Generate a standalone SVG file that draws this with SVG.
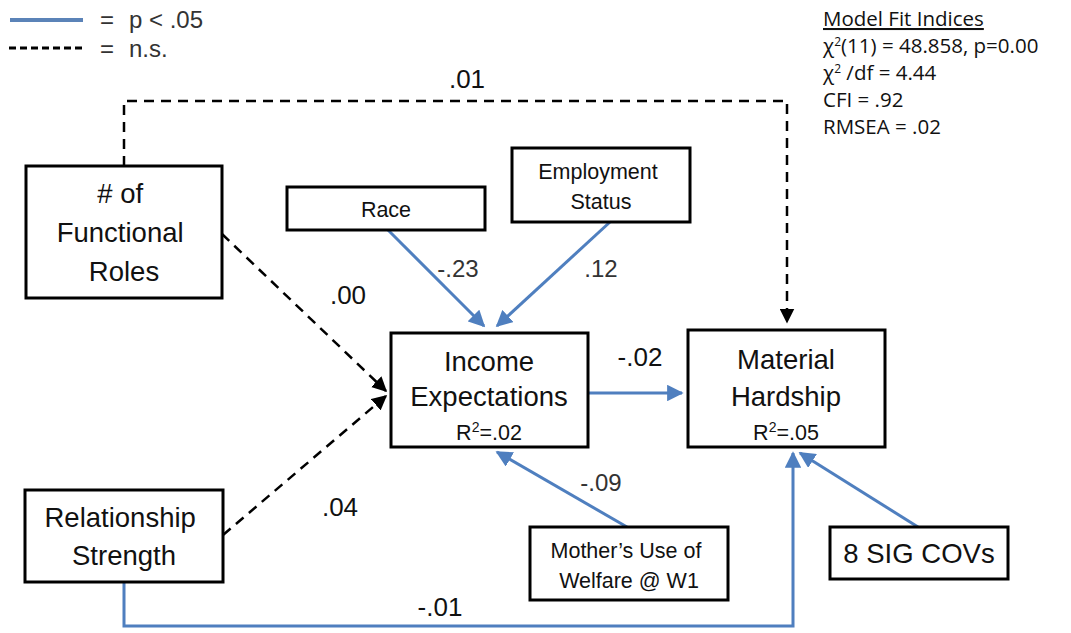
<svg xmlns="http://www.w3.org/2000/svg" width="1071" height="633" viewBox="0 0 1071 633">
  <style>
    .box { fill: #fff; stroke: #000; stroke-width: 3; }
    .t { font-family: "Liberation Sans", Arial, sans-serif; fill: #111; text-anchor: middle; }
    .big { font-size: 27.5px; }
    .mid { font-size: 21.5px; }
    .lbl { font-family: "Liberation Sans", Arial, sans-serif; fill: #111; font-size: 26px; text-anchor: middle; }
    .lbls { font-family: "Liberation Sans", Arial, sans-serif; fill: #333; font-size: 24px; text-anchor: middle; }
    .sig { fill: none; stroke: #4f7fbf; stroke-width: 3; }
    .ns { fill: none; stroke: #000; stroke-width: 2.5; stroke-dasharray: 10 7; }
    .fit { font-family: "Open Sans", "Liberation Sans", sans-serif; font-size: 20.5px; fill: #111; }
    .sup { font-size: 12px; }
    .leg { font-family: "Liberation Sans", Arial, sans-serif; font-size: 24px; fill: #333; }
  </style>
  <defs>
    <marker id="arrBlue" viewBox="0 0 10 10" refX="9" refY="5" markerWidth="5.5" markerHeight="5.5" orient="auto" markerUnits="strokeWidth">
      <path d="M0,0 L10,5 L0,10 z" fill="#4f7fbf"/>
    </marker>
    <marker id="arrBlack" viewBox="0 0 10 10" refX="9" refY="5" markerWidth="6" markerHeight="6" orient="auto" markerUnits="strokeWidth">
      <path d="M0,0 L10,5 L0,10 z" fill="#000"/>
    </marker>
  </defs>

  <rect width="1071" height="633" fill="#fff"/>

  <!-- legend -->
  <g id="legend">
    <line x1="10" y1="20" x2="83" y2="20" stroke="#5b83b8" stroke-width="4"/>
    <text class="leg" x="100" y="28">=<tspan x="129">p &lt; .05</tspan></text>
    <line x1="9" y1="48" x2="83" y2="48" stroke="#000" stroke-width="3" stroke-dasharray="7 4"/>
    <text class="leg" x="100" y="57">=<tspan x="129">n.s.</tspan></text>
  </g>

  <!-- fit statistics -->
  <g id="fit">
    <text class="fit" x="823" y="26" text-decoration="underline">Model Fit Indices</text>
    <text class="fit" x="823" y="53">χ<tspan class="sup" dy="-7">2</tspan><tspan dy="7">(11) = 48.858, p=0.00</tspan></text>
    <text class="fit" x="823" y="80">χ<tspan class="sup" dy="-7">2</tspan><tspan dy="7"> /df = 4.44</tspan></text>
    <text class="fit" x="823" y="107">CFI = .92</text>
    <text class="fit" x="823" y="134">RMSEA = .02</text>
  </g>

  <!-- connectors -->
  <g id="connectors">
    <polyline class="ns" points="124,166 124,101 787,101 787,322" marker-end="url(#arrBlack)"/>
    <line class="ns" x1="222" y1="234" x2="386" y2="391" marker-end="url(#arrBlack)"/>
    <line class="ns" x1="223" y1="535" x2="386" y2="396" marker-end="url(#arrBlack)"/>
    <line class="sig" x1="388" y1="230" x2="484" y2="326" marker-end="url(#arrBlue)"/>
    <line class="sig" x1="610" y1="222" x2="497" y2="326" marker-end="url(#arrBlue)"/>
    <line class="sig" x1="588" y1="393" x2="682" y2="393" marker-end="url(#arrBlue)"/>
    <line class="sig" x1="627" y1="527" x2="497" y2="452" marker-end="url(#arrBlue)"/>
    <line class="sig" x1="918" y1="527" x2="800" y2="453" marker-end="url(#arrBlue)"/>
    <polyline class="sig" points="124,582 124,626 793,626 793,453" marker-end="url(#arrBlue)"/>

    <text class="lbl" x="467" y="88">.01</text>
    <text class="lbl" x="348" y="304">.00</text>
    <text class="lbl" x="340" y="516">.04</text>
    <text class="lbl" x="640" y="366">-.02</text>
    <text class="lbl" x="440" y="616">-.01</text>
    <text class="lbls" x="458" y="277">-.23</text>
    <text class="lbls" x="601" y="277">.12</text>
    <text class="lbls" x="601" y="491">-.09</text>
  </g>

  <!-- nodes -->
  <g id="functional-roles">
    <rect class="box" x="26" y="166" width="196" height="132"/>
    <text class="t big" x="124" y="203">
      <tspan x="124">#  of</tspan>
      <tspan x="124" dy="39">Functional</tspan>
      <tspan x="124" dy="39">Roles</tspan>
    </text>
  </g>

  <g id="race">
    <rect class="box" x="287" y="187" width="198" height="43"/>
    <text class="t mid" x="386" y="217">Race</text>
  </g>

  <g id="employment">
    <rect class="box" x="512" y="148" width="178" height="74"/>
    <text class="t mid" x="601" y="179">
      <tspan x="601">Employment</tspan>
      <tspan x="601" dy="30">Status</tspan>
    </text>
  </g>

  <g id="income">
    <rect class="box" x="391" y="333" width="197" height="114"/>
    <text class="t big" x="489" y="371">Income</text>
    <text class="t big" x="489" y="406">Expectations</text>
    <text class="t mid" x="489" y="440">R<tspan font-size="14" dy="-8">2</tspan><tspan dy="8">=.02</tspan></text>
  </g>

  <g id="hardship">
    <rect class="box" x="688" y="330" width="197" height="117"/>
    <text class="t big" x="786" y="369">Material</text>
    <text class="t big" x="786" y="406">Hardship</text>
    <text class="t mid" x="786" y="440">R<tspan font-size="14" dy="-8">2</tspan><tspan dy="8">=.05</tspan></text>
  </g>

  <g id="relationship">
    <rect class="box" x="25" y="490" width="198" height="92"/>
    <text class="t big" x="124" y="527">
      <tspan x="124">Relationship</tspan>
      <tspan x="124" dy="38">Strength</tspan>
    </text>
  </g>

  <g id="welfare">
    <rect class="box" x="530" y="527" width="198" height="73"/>
    <text class="t mid" x="629" y="558">
      <tspan x="629">Mother’s Use of</tspan>
      <tspan x="629" dy="30">Welfare @ W1</tspan>
    </text>
  </g>

  <g id="covariates">
    <rect class="box" x="830" y="527" width="178" height="52"/>
    <text class="t big" x="919" y="563">8 SIG COVs</text>
  </g>
</svg>
